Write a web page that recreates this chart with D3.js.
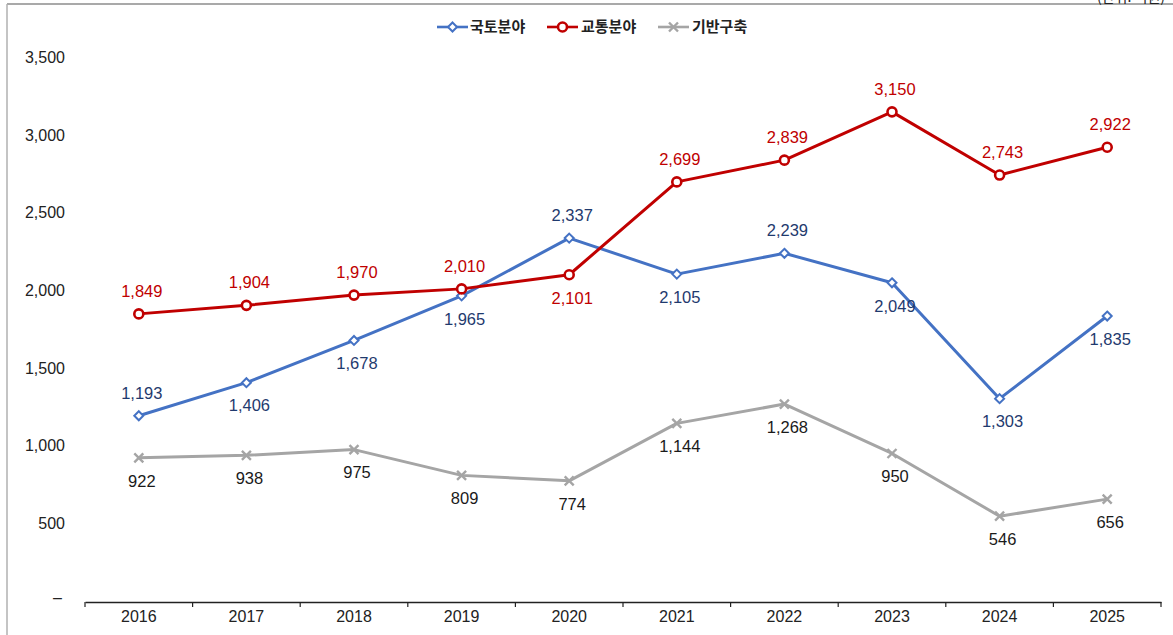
<!DOCTYPE html>
<html><head><meta charset="utf-8">
<script src="https://cdn.jsdelivr.net/npm/d3@7"></script>
<style>body{margin:0;background:#fff;}svg{display:block;}</style>
</head><body>
<svg id="c" width="1173" height="635"></svg>
<script>
const years = ["2016","2017","2018","2019","2020","2021","2022","2023","2024","2025"];
const landValues = [1193,1406,1678,1965,2337,2105,2239,2049,1303,1835];
const transportValues = [1849,1904,1970,2010,2101,2699,2839,3150,2743,2922];
const infraValues = [922,938,975,809,774,1144,1268,950,546,656];
const seriesNames = ["국토분야","교통분야","기반구축"];
const yTicks = [0,500,1000,1500,2000,2500,3000,3500];
// label placement: 1 = above, -1 = below
const landPos = [1,-1,-1,-1,1,-1,1,-1,-1,-1];
const transportPos = [1,1,1,1,-1,1,1,1,1,1];
const infraPos = [-1,-1,-1,-1,-1,-1,-1,-1,-1,-1];

const svg = d3.select("#c");
const font = "'Noto Sans CJK KR', 'Noto Sans', sans-serif";
const numFont = "Arial, 'Liberation Sans', sans-serif";

// frame
svg.append("line").attr("x1",7).attr("x2",1173).attr("y1",4).attr("y2",4).attr("stroke","#8c8c8c").attr("stroke-width",1.5);
svg.append("line").attr("x1",7).attr("x2",7).attr("y1",4).attr("y2",635).attr("stroke","#b0b0b0").attr("stroke-width",1.5);
svg.append("text").attr("x",1165).attr("y",2).attr("text-anchor","end").attr("font-family",font).attr("font-size",14).attr("fill","#222").text("(단위: 억원)");

const x = d3.scaleBand().domain(years).range([85,1161]);
const y = d3.scaleLinear().domain([0,3500]).range([601,57.5]);

// x axis
const xAxis = svg.append("g").attr("transform","translate(0,602)")
  .call(d3.axisBottom(x).tickSize(0).tickPadding(9));
xAxis.select(".domain").attr("stroke","#222").attr("stroke-width",1.3);
xAxis.selectAll("text").attr("font-family",numFont).attr("font-size",16).attr("fill","#222");
// boundary ticks
const bounds = years.map(d=>x(d)).concat([x.range()[1]]);
svg.append("g").selectAll("line").data(bounds).join("line")
  .attr("x1",d=>d).attr("x2",d=>d).attr("y1",602).attr("y2",607)
  .attr("stroke","#222").attr("stroke-width",1.2);

// y axis labels
const yAxis = svg.append("g").attr("transform","translate(65,0)")
  .call(d3.axisLeft(y).tickValues(yTicks).tickSize(0).tickPadding(0)
    .tickFormat(d=> d===0 ? "–" : d3.format(",")(d)));
yAxis.select(".domain").remove();
yAxis.selectAll("text").attr("font-family",numFont).attr("font-size",16).attr("fill","#222");
yAxis.selectAll(".tick").filter(d=>d===0).select("text").attr("dx",-3).attr("dy","0.1em");

const cx = d=>x(d)+x.bandwidth()/2;
const series = [
  {name:seriesNames[0], vals:landValues, pos:landPos, color:"#4472C4", label:"#1F3A6E", marker:"diamond"},
  {name:seriesNames[1], vals:transportValues, pos:transportPos, color:"#C00000", label:"#C00000", marker:"circle"},
  {name:seriesNames[2], vals:infraValues, pos:infraPos, color:"#A5A5A5", label:"#1a1a1a", marker:"x"}
];

const line = d3.line().x(d=>cx(d.year)).y(d=>y(d.v));

function drawMarker(g, type, color){
  if(type==="diamond"){
    g.append("path").attr("d","M0,-4.5L4.5,0L0,4.5L-4.5,0Z").attr("fill","#fff").attr("stroke",color).attr("stroke-width",2);
  } else if(type==="circle"){
    g.append("circle").attr("r",4.5).attr("fill","#fff").attr("stroke",color).attr("stroke-width",2.6);
  } else {
    g.append("path").attr("d","M-4.5,-4.5L4.5,4.5M-4.5,4.5L4.5,-4.5").attr("stroke",color).attr("stroke-width",2.4);
  }
}

[series[2], series[0], series[1]].forEach(s=>{
  const data = years.map((yr,i)=>({year:yr, v:s.vals[i], p:s.pos[i]}));
  svg.append("path").datum(data).attr("d",line).attr("fill","none")
    .attr("stroke",s.color).attr("stroke-width",3).attr("stroke-linejoin","round");
  const m = svg.append("g").selectAll("g").data(data).join("g")
    .attr("transform",d=>`translate(${cx(d.year)},${y(d.v)})`);
  m.each(function(){ drawMarker(d3.select(this), s.marker, s.color); });
  svg.append("g").selectAll("text").data(data).join("text")
    .attr("x",d=>cx(d.year)+3)
    .attr("y",d=>y(d.v) - d.p*23)
    .attr("dy","0.35em")
    .attr("text-anchor","middle")
    .attr("font-family",numFont).attr("font-size",16.5).attr("fill",s.label)
    .text(d=>d3.format(",")(d.v));
});

// legend
const legendItems = [
  {s:series[0], x:437, tx:470},
  {s:series[1], x:547, tx:581},
  {s:series[2], x:658, tx:692}
];
const lg = svg.append("g");
legendItems.forEach(it=>{
  const g = lg.append("g");
  g.append("line").attr("x1",it.x).attr("x2",it.x+31).attr("y1",27).attr("y2",27)
    .attr("stroke",it.s.color).attr("stroke-width",2.6);
  const mg = g.append("g").attr("transform",`translate(${it.x+15.5},27)`);
  drawMarker(mg, it.s.marker, it.s.color);
  g.append("text").attr("x",it.tx).attr("y",27).attr("dy","0.36em")
    .attr("font-family",font).attr("font-size",15).attr("font-weight",700).attr("fill","#222")
    .text(it.s.name);
});
</script>
</body></html>
